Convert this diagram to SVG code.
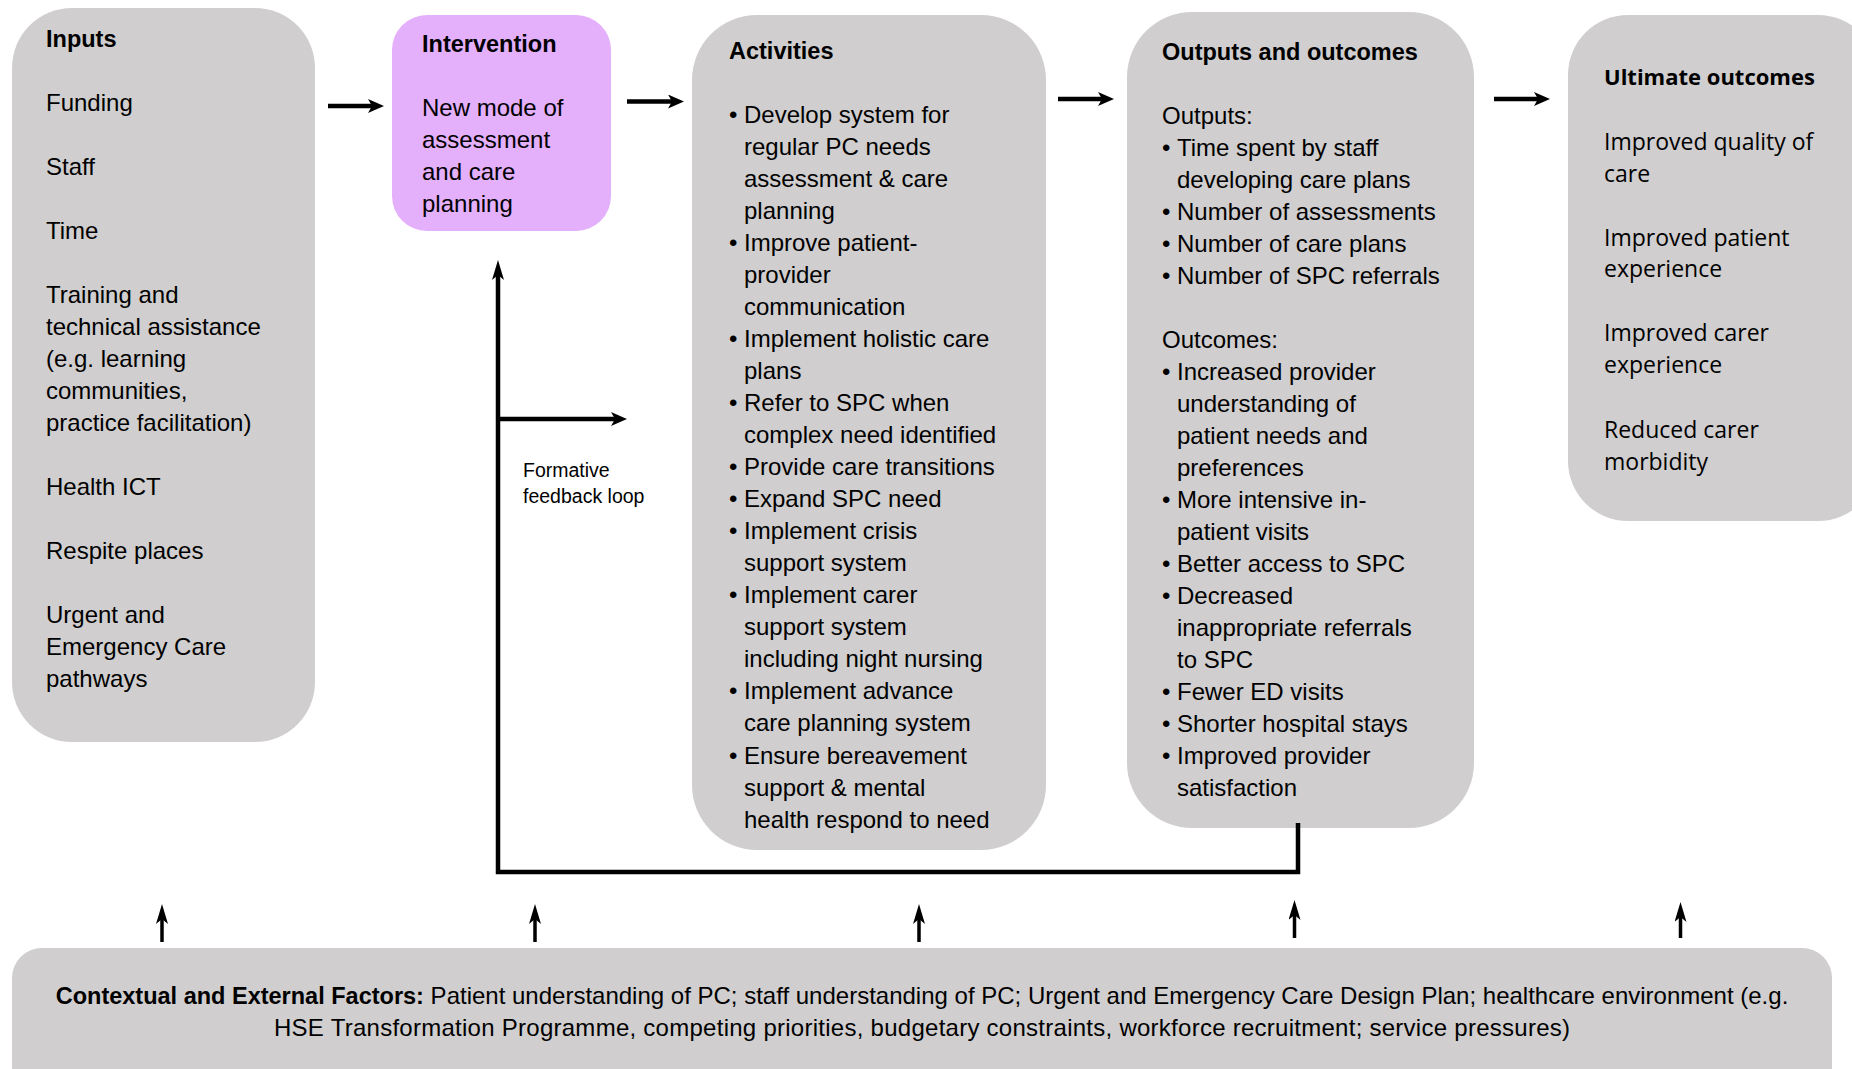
<svg xmlns="http://www.w3.org/2000/svg" width="1852" height="1069" viewBox="0 0 1852 1069">
<defs>
<style>
.box{fill:#D0CECE;}
.int{fill:#E4AFFB;}
text{font-family:"Liberation Sans",Arial,sans-serif;font-size:24px;fill:#000;}
.b{font-weight:bold;font-size:23.5px;}
.u{font-family:"Open Sans","Liberation Sans",sans-serif;font-size:23px;}
.ub{font-family:"Open Sans","Liberation Sans",sans-serif;font-size:22px;font-weight:bold;}
.sm{font-size:19.5px;}
.con{fill:none;stroke:#000;stroke-width:4.5;}
.thin{fill:none;stroke:#000;stroke-width:3.5;}
</style>
<marker id="arr" viewBox="0 0 16 14" markerWidth="16" markerHeight="14" refX="6" refY="7" orient="auto" markerUnits="userSpaceOnUse"><path d="M0,0 L16,7 L0,14 L4,7 z" fill="#000"/></marker>
<marker id="arrUp" viewBox="0 0 20 12" markerWidth="20" markerHeight="12" refX="7" refY="6" orient="auto" markerUnits="userSpaceOnUse"><path d="M0,0 L20,6 L0,12 L5,6 z" fill="#000"/></marker>
</defs>

<g id="inputs">
<rect class="box" x="12" y="8" width="303" height="734" rx="60"/>
<g transform="translate(0,1.2)">
<text x="46" y="46" class="b">Inputs</text>
<text x="46" y="110">Funding</text>
<text x="46" y="174">Staff</text>
<text x="46" y="238">Time</text>
<text x="46" y="302">Training and</text>
<text x="46" y="334">technical assistance</text>
<text x="46" y="366">(e.g. learning</text>
<text x="46" y="398">communities,</text>
<text x="46" y="430">practice facilitation)</text>
<text x="46" y="494">Health ICT</text>
<text x="46" y="558">Respite places</text>
<text x="46" y="622">Urgent and</text>
<text x="46" y="654">Emergency Care</text>
<text x="46" y="686">pathways</text>
</g>
</g>

<g id="intervention">
<rect class="int" x="392" y="15" width="219" height="216" rx="35"/>
<g transform="translate(0,1.2)">
<text x="422" y="51" class="b">Intervention</text>
<text x="422" y="114.5">New mode of</text>
<text x="422" y="146.5">assessment</text>
<text x="422" y="178.5">and care</text>
<text x="422" y="210.5">planning</text>
</g>
</g>

<g id="activities">
<rect class="box" x="692" y="15" width="354" height="835" rx="65"/>
<g transform="translate(0,1)">
<text x="729" y="58" class="b">Activities</text>
<text x="729" y="121.6">•</text><text x="744" y="121.6">Develop system for</text>
<text x="744" y="153.6">regular PC needs</text>
<text x="744" y="185.7">assessment &amp; care</text>
<text x="744" y="217.7">planning</text>
<text x="729" y="249.8">•</text><text x="744" y="249.8">Improve patient-</text>
<text x="744" y="281.8">provider</text>
<text x="744" y="313.9">communication</text>
<text x="729" y="345.9">•</text><text x="744" y="345.9">Implement holistic care</text>
<text x="744" y="378">plans</text>
<text x="729" y="410">•</text><text x="744" y="410">Refer to SPC when</text>
<text x="744" y="442">complex need identified</text>
<text x="729" y="474.1">•</text><text x="744" y="474.1">Provide care transitions</text>
<text x="729" y="506.1">•</text><text x="744" y="506.1">Expand SPC need</text>
<text x="729" y="538.2">•</text><text x="744" y="538.2">Implement crisis</text>
<text x="744" y="570.2">support system</text>
<text x="729" y="602.3">•</text><text x="744" y="602.3">Implement carer</text>
<text x="744" y="634.3">support system</text>
<text x="744" y="666.4">including night nursing</text>
<text x="729" y="698.4">•</text><text x="744" y="698.4">Implement advance</text>
<text x="744" y="730.4">care planning system</text>
<text x="729" y="762.5">•</text><text x="744" y="762.5">Ensure bereavement</text>
<text x="744" y="794.5">support &amp; mental</text>
<text x="744" y="826.6">health respond to need</text>
</g>
</g>

<g id="outputs">
<rect class="box" x="1127" y="12" width="347" height="816" rx="65"/>
<g transform="translate(0,1)">
<text x="1162" y="59" class="b">Outputs and outcomes</text>
<text x="1162" y="122.7">Outputs:</text>
<text x="1162" y="154.7">•</text><text x="1177" y="154.7">Time spent by staff</text>
<text x="1177" y="186.7">developing care plans</text>
<text x="1162" y="218.7">•</text><text x="1177" y="218.7">Number of assessments</text>
<text x="1162" y="250.7">•</text><text x="1177" y="250.7">Number of care plans</text>
<text x="1162" y="282.7">•</text><text x="1177" y="282.7">Number of SPC referrals</text>
<text x="1162" y="346.7">Outcomes:</text>
<text x="1162" y="378.7">•</text><text x="1177" y="378.7">Increased provider</text>
<text x="1177" y="410.7">understanding of</text>
<text x="1177" y="442.7">patient needs and</text>
<text x="1177" y="474.7">preferences</text>
<text x="1162" y="506.7">•</text><text x="1177" y="506.7">More intensive in-</text>
<text x="1177" y="538.7">patient visits</text>
<text x="1162" y="570.7">•</text><text x="1177" y="570.7">Better access to SPC</text>
<text x="1162" y="602.7">•</text><text x="1177" y="602.7">Decreased</text>
<text x="1177" y="634.7">inappropriate referrals</text>
<text x="1177" y="666.7">to SPC</text>
<text x="1162" y="698.7">•</text><text x="1177" y="698.7">Fewer ED visits</text>
<text x="1162" y="730.7">•</text><text x="1177" y="730.7">Shorter hospital stays</text>
<text x="1162" y="762.7">•</text><text x="1177" y="762.7">Improved provider</text>
<text x="1177" y="794.7">satisfaction</text>
</g>
</g>

<g id="ultimate">
<rect class="box" x="1568" y="15" width="310" height="506" rx="60"/>
<g transform="translate(0,1.2)">
<text x="1604" y="84" class="ub">Ultimate outcomes</text>
<text x="1604" y="148.7" class="u">Improved quality of</text>
<text x="1604" y="180.6" class="u">care</text>
<text x="1604" y="244.4" class="u">Improved patient</text>
<text x="1604" y="276.3" class="u">experience</text>
<text x="1604" y="340" class="u">Improved carer</text>
<text x="1604" y="372" class="u">experience</text>
<text x="1604" y="437" class="u">Reduced carer</text>
<text x="1604" y="468.8" class="u">morbidity</text>
</g>
</g>

<g id="context">
<rect class="box" x="12" y="948" width="1820" height="150" rx="30"/>
<text x="922" y="1004" text-anchor="middle"><tspan class="b">Contextual and External Factors:</tspan>  Patient understanding of PC; staff understanding of PC; Urgent and Emergency Care Design Plan; healthcare environment (e.g.</text>
<text x="922" y="1036" text-anchor="middle" textLength="1296" lengthAdjust="spacing">HSE Transformation Programme, competing priorities, budgetary constraints, workforce recruitment; service pressures)</text>
</g>

<g id="feedback-label">
<text x="523" y="477" class="sm">Formative</text>
<text x="523" y="503" class="sm">feedback loop</text>
</g>

<g id="connectors">
<line class="con" x1="328" y1="106" x2="374" y2="106" marker-end="url(#arr)"/>
<line class="con" x1="627" y1="101.5" x2="674" y2="101.5" marker-end="url(#arr)"/>
<line class="con" x1="1058" y1="99" x2="1104" y2="99" marker-end="url(#arr)"/>
<line class="con" x1="1494" y1="99" x2="1540" y2="99" marker-end="url(#arr)"/>
<polyline class="con" points="1298,823 1298,872 498,872 498,273" marker-end="url(#arrUp)"/>
<line class="con" x1="498" y1="419" x2="617" y2="419" marker-end="url(#arr)"/>
<line class="thin" x1="162" y1="942" x2="162" y2="917" marker-end="url(#arrUp)"/>
<line class="thin" x1="535" y1="942" x2="535" y2="917" marker-end="url(#arrUp)"/>
<line class="thin" x1="919" y1="942" x2="919" y2="917" marker-end="url(#arrUp)"/>
<line class="thin" x1="1294.5" y1="938" x2="1294.5" y2="913" marker-end="url(#arrUp)"/>
<line class="thin" x1="1680.5" y1="938" x2="1680.5" y2="915" marker-end="url(#arrUp)"/>
</g>
</svg>
